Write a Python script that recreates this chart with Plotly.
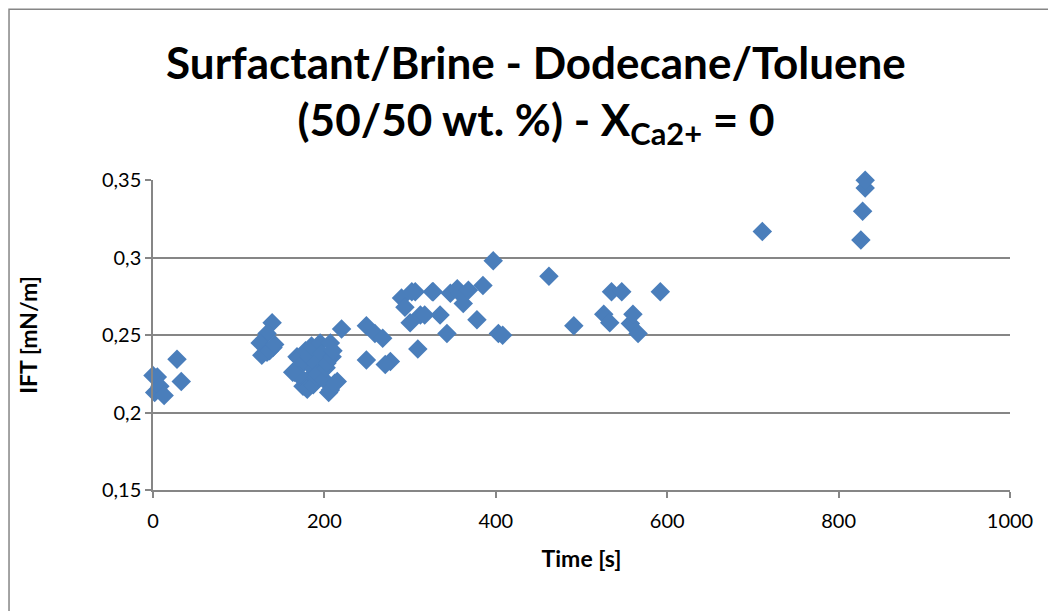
import plotly.graph_objects as go

# Time [s]
time_s = [0, 5, 2, 8, 13, 28, 33,
          139, 133, 125, 140, 127, 133, 136, 142,
          165, 168, 170, 172, 175, 178, 180, 180, 182, 185, 187, 188, 190, 191, 192,
          195, 197, 200, 202, 203, 205, 207, 207, 209, 210, 212, 215, 170, 163,
          220, 249, 259, 268, 249, 277, 271,
          300, 309, 312, 306, 326, 290, 294, 302, 317, 327, 335, 343, 347, 355,
          358, 362, 368, 378, 385, 397, 403, 408,
          462, 491, 526, 533, 535, 547, 557, 560, 566, 592,
          711, 826, 828, 831, 831]
# IFT [mN/m]
ift = [0.224, 0.223, 0.213, 0.217, 0.211, 0.2345, 0.220,
       0.258, 0.251, 0.245, 0.242, 0.237, 0.239, 0.240, 0.244,
       0.226, 0.236, 0.235, 0.230, 0.217, 0.240, 0.221, 0.215, 0.236, 0.243, 0.218,
       0.228, 0.232, 0.223, 0.225,
       0.245, 0.238, 0.221, 0.229, 0.232, 0.213, 0.245, 0.2145, 0.236, 0.240, 0.219,
       0.220, 0.224, 0.226,
       0.254, 0.256, 0.251, 0.248, 0.234, 0.233, 0.231,
       0.258, 0.241, 0.263, 0.278, 0.278, 0.274, 0.268, 0.278, 0.263, 0.278, 0.263,
       0.251, 0.277, 0.280,
       0.277, 0.2705, 0.279, 0.260, 0.282, 0.298, 0.251, 0.250,
       0.288, 0.256, 0.2635, 0.258, 0.278, 0.278, 0.2575, 0.2635, 0.251, 0.278,
       0.317, 0.3115, 0.330, 0.345, 0.350]

x_ticks = [0, 200, 400, 600, 800, 1000]
y_ticks = [0.15, 0.2, 0.25, 0.3, 0.35]
y_ticktext = ["0,15", "0,2", "0,25", "0,3", "0,35"]

font = "Lato, 'Open Sans', sans-serif"
grid = "#868686"

fig = go.Figure()
fig.add_trace(go.Scatter(
    x=time_s, y=ift, mode="markers", cliponaxis=False,
    marker=dict(symbol="diamond", size=15, color="#4A7EBB",
                line=dict(width=0)),
    showlegend=False,
))

fig.update_layout(
    width=1056, height=611,
    paper_bgcolor="white", plot_bgcolor="white",
    margin=dict(l=145, r=54, t=172, b=129),
    font=dict(family=font, color="black", size=18),
    title=dict(
        text="<b>Surfactant/Brine - Dodecane/Toluene<br>(50/50 wt. %) - X<sub>Ca2+</sub> = 0</b>",
        x=0.5, xanchor="center", y=0.884, yanchor="middle",
        font=dict(family=font, size=44, color="black"),
    ),
    xaxis=dict(
        range=[0, 1000], tickvals=x_ticks, ticktext=[str(v) for v in x_ticks],
        showgrid=False, zeroline=False,
        showline=True, linecolor=grid, linewidth=1.5,
        ticks="outside", ticklen=6, tickcolor=grid, tickwidth=1.5,
        ticklabelstandoff=6,
        tickfont=dict(size=20),
        title=dict(text="<b>Time [s]</b>", font=dict(size=23), standoff=20),
    ),
    yaxis=dict(
        range=[0.15, 0.3502], tickvals=y_ticks, ticktext=y_ticktext,
        showgrid=True, gridcolor=grid, gridwidth=1.5, zeroline=False,
        showline=True, linecolor=grid, linewidth=1.5,
        ticks="outside", ticklen=6, tickcolor=grid, tickwidth=1.5,
        tickfont=dict(size=20),
        title=dict(text="<b>IFT [mN/m]</b>", font=dict(size=23), standoff=58),
    ),
    shapes=[dict(type="rect", xref="paper", yref="paper",
                 x0=-0.168, x1=1.2, y0=-0.6, y1=1.551,
                 line=dict(color="#868686", width=1.5), fillcolor="rgba(0,0,0,0)",
                 layer="below")],
)

fig.write_html("out.html")
